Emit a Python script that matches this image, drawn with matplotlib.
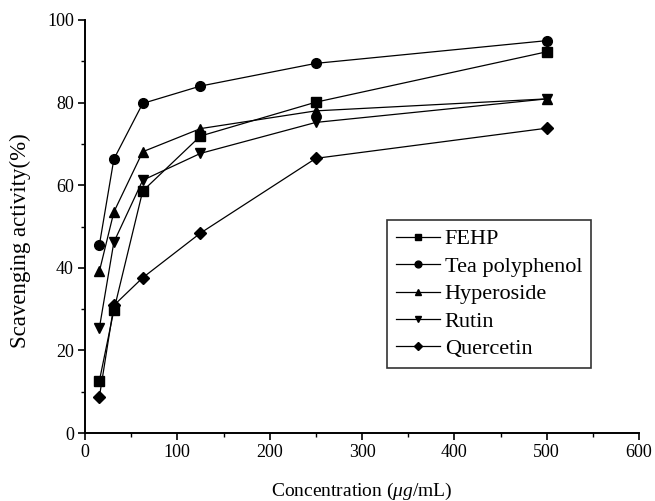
import matplotlib
matplotlib.use("Agg")
import matplotlib.pyplot as plt

plt.rcParams['font.family'] = ['Liberation Serif', 'DejaVu Serif']
plt.rcParams['mathtext.fontset'] = 'custom'
plt.rcParams['mathtext.rm'] = 'Liberation Serif'
plt.rcParams['mathtext.it'] = 'Liberation Serif:italic'

concentration = [15.625, 31.25, 62.5, 125, 250, 500]
fehp = [12.7, 29.7, 58.6, 71.9, 80.1, 92.3]
tea_polyphenol = [45.6, 66.3, 79.8, 84.0, 89.5, 95.0]
hyperoside = [39.2, 53.5, 68.1, 73.7, 78.0, 80.9]
rutin = [25.5, 46.2, 61.2, 67.7, 75.2, 80.9]
quercetin = [8.8, 30.9, 37.6, 48.4, 66.5, 73.8]

series = [
    ("FEHP", fehp, "s"),
    ("Tea polyphenol", tea_polyphenol, "o"),
    ("Hyperoside", hyperoside, "^"),
    ("Rutin", rutin, "v"),
    ("Quercetin", quercetin, "D"),
]

W, H = 655, 501
fig = plt.figure(figsize=(W / 100, H / 100), dpi=100)
ax = fig.add_axes([85 / W, 1 - 433 / H, (639 - 85) / W, (433 - 20) / H])

for name, vals, mk in series:
    ms = 6 if mk == "D" else 7
    ax.plot(concentration, vals, color="black", linewidth=0.9,
            marker=mk, markersize=ms, label=name)

ax.set_xlim(0, 600)
ax.set_ylim(0, 100)
ax.set_xticks(range(0, 601, 100))
ax.set_xticks(range(0, 601, 50), minor=True)
ax.set_yticks(range(0, 101, 20))
ax.set_yticks(range(0, 101, 10), minor=True)

for side in ("top", "right"):
    ax.spines[side].set_visible(False)
for side in ("left", "bottom"):
    ax.spines[side].set_linewidth(1.4)

ax.tick_params(which="major", direction="out", length=5, width=1.2,
               labelsize=13, colors="black", pad=3)
ax.tick_params(which="minor", direction="out", length=3, width=1.0)

ax.set_xlabel(r"Concentration ($\mu g$/mL)", fontsize=14, labelpad=14)
ax.set_ylabel("Scavenging activity(%)", fontsize=16.5)
ax.yaxis.set_label_coords(-0.098, 0.465)

leg = ax.legend(loc="lower left", bbox_to_anchor=(0.545, 0.157),
                fontsize=16, frameon=True, fancybox=False,
                edgecolor="black", handlelength=2.0, handletextpad=0.2,
                borderpad=0.4, labelspacing=0.31, markerscale=0.7,
                borderaxespad=0.0)
leg.get_frame().set_linewidth(1.2)

fig.savefig("out.png", dpi=100)
